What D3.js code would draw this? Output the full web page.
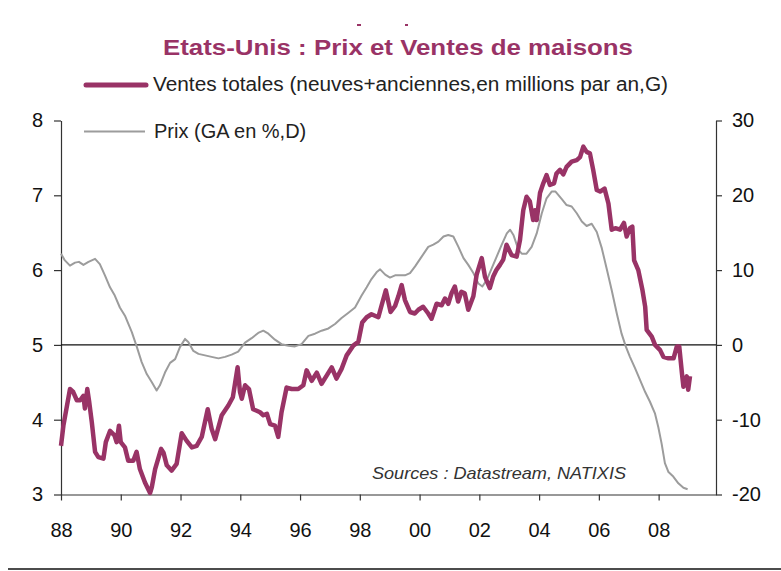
<!DOCTYPE html>
<html>
<head>
<meta charset="utf-8">
<script src="https://cdn.jsdelivr.net/npm/d3@7"></script>
<style>
  body { margin: 0; background: #fff; }
  svg { display: block; font-family: "Liberation Sans", Arial, sans-serif; }
</style>
</head>
<body>
<svg width="781" height="571"></svg>
<script>
// Ventes totales (millions par an), axe gauche
const salesYears = [
  1988.00, 1988.08, 1988.30, 1988.41, 1988.53, 1988.64, 1988.75, 1988.80, 1988.88, 1988.94,
  1989.03, 1989.14, 1989.25, 1989.42, 1989.50, 1989.64, 1989.79, 1989.86, 1989.94, 1990.00,
  1990.14, 1990.25, 1990.42, 1990.53, 1990.64, 1990.81, 1990.98, 1991.04, 1991.15, 1991.35,
  1991.43, 1991.54, 1991.70, 1991.87, 1992.04, 1992.20, 1992.38, 1992.54, 1992.71, 1992.91,
  1993.04, 1993.16, 1993.38, 1993.60, 1993.75, 1993.91, 1993.99, 1994.05, 1994.16, 1994.29,
  1994.43, 1994.55, 1994.66, 1994.77, 1994.89, 1995.00, 1995.16, 1995.27, 1995.38, 1995.55,
  1995.72, 1995.94, 1996.11, 1996.22, 1996.39, 1996.56, 1996.72, 1996.89, 1997.06, 1997.22,
  1997.39, 1997.56, 1997.78, 1997.95, 1998.08, 1998.23, 1998.39, 1998.62, 1998.73, 1998.87,
  1999.03, 1999.18, 1999.29, 1999.40, 1999.51, 1999.68, 1999.84, 1999.96, 2000.12, 2000.29,
  2000.40, 2000.57, 2000.74, 2000.85, 2000.96, 2001.07, 2001.18, 2001.29, 2001.40, 2001.51,
  2001.63, 2001.80, 2001.91, 2002.08, 2002.19, 2002.35, 2002.46, 2002.57, 2002.69, 2002.80,
  2002.91, 2003.08, 2003.25, 2003.36, 2003.47, 2003.58, 2003.69, 2003.80, 2003.86, 2003.92,
  2004.03, 2004.14, 2004.25, 2004.36, 2004.50, 2004.58, 2004.70, 2004.81, 2004.92, 2005.09,
  2005.26, 2005.37, 2005.48, 2005.59, 2005.70, 2005.81, 2005.93, 2006.04, 2006.19, 2006.32,
  2006.43, 2006.55, 2006.71, 2006.84, 2006.93, 2007.04, 2007.12, 2007.18, 2007.32, 2007.46,
  2007.55, 2007.60, 2007.77, 2007.88, 2008.05, 2008.16, 2008.33, 2008.50, 2008.61, 2008.69,
  2008.78, 2008.83, 2008.94, 2008.99, 2009.05
];
const salesValues = [
  3.65, 3.92, 4.41, 4.37, 4.26, 4.26, 4.32, 4.15, 4.41, 4.25,
  3.97, 3.57, 3.50, 3.48, 3.70, 3.85, 3.79, 3.70, 3.92, 3.70,
  3.63, 3.45, 3.45, 3.57, 3.34, 3.16, 3.02, 3.10, 3.34, 3.61,
  3.56, 3.39, 3.32, 3.41, 3.82, 3.72, 3.63, 3.65, 3.77, 4.14,
  3.88, 3.74, 4.06, 4.19, 4.30, 4.70, 4.37, 4.28, 4.46, 4.41,
  4.14, 4.12, 4.10, 4.06, 4.08, 3.94, 3.92, 3.77, 4.10, 4.43,
  4.41, 4.41, 4.46, 4.66, 4.52, 4.63, 4.48, 4.59, 4.70, 4.55,
  4.68, 4.86, 4.99, 5.04, 5.30, 5.37, 5.41, 5.37, 5.53, 5.73,
  5.44, 5.52, 5.65, 5.80, 5.60, 5.44, 5.42, 5.47, 5.51, 5.42,
  5.35, 5.55, 5.53, 5.62, 5.55, 5.69, 5.78, 5.58, 5.71, 5.69,
  5.47, 5.65, 5.94, 6.16, 5.91, 5.76, 5.91, 6.00, 6.07, 6.14,
  6.34, 6.20, 6.18, 6.40, 6.80, 6.98, 6.92, 6.67, 6.80, 6.67,
  7.03, 7.16, 7.27, 7.14, 7.16, 7.29, 7.34, 7.28, 7.38, 7.45,
  7.47, 7.51, 7.65, 7.58, 7.56, 7.34, 7.07, 7.05, 7.09, 6.89,
  6.54, 6.56, 6.54, 6.63, 6.45, 6.56, 6.58, 6.13, 6.00, 5.73,
  5.51, 5.20, 5.11, 5.00, 4.93, 4.84, 4.82, 4.82, 4.98, 4.98,
  4.62, 4.44, 4.58, 4.40, 4.58
];

// Prix (glissement annuel en %), axe droit
const priceYears = [
  1988.00, 1988.13, 1988.30, 1988.47, 1988.60, 1988.75, 1988.92, 1989.14, 1989.30, 1989.47,
  1989.64, 1989.80, 1989.97, 1990.14, 1990.37, 1990.54, 1990.70, 1990.87, 1991.04, 1991.20,
  1991.31, 1991.48, 1991.65, 1991.82, 1991.98, 1992.15, 1992.26, 1992.43, 1992.60, 1992.82,
  1993.04, 1993.27, 1993.49, 1993.71, 1993.93, 1994.16, 1994.38, 1994.60, 1994.77, 1994.94,
  1995.16, 1995.38, 1995.61, 1995.83, 1996.05, 1996.28, 1996.50, 1996.72, 1996.95, 1997.17,
  1997.39, 1997.62, 1997.84, 1998.06, 1998.23, 1998.39, 1998.56, 1998.68, 1998.85, 1999.01,
  1999.18, 1999.51, 1999.68, 1999.85, 2000.07, 2000.29, 2000.46, 2000.63, 2000.80, 2000.96,
  2001.13, 2001.30, 2001.47, 2001.63, 2001.80, 2001.97, 2002.10, 2002.25, 2002.41, 2002.58,
  2002.75, 2002.92, 2003.03, 2003.14, 2003.31, 2003.42, 2003.58, 2003.75, 2003.92, 2004.09,
  2004.25, 2004.42, 2004.55, 2004.76, 2004.92, 2005.09, 2005.26, 2005.43, 2005.59, 2005.76,
  2005.93, 2006.10, 2006.26, 2006.43, 2006.60, 2006.76, 2006.90, 2007.04, 2007.21, 2007.38,
  2007.55, 2007.71, 2007.88, 2007.99, 2008.10, 2008.21, 2008.33, 2008.49, 2008.66, 2008.83,
  2008.97
];
const priceValues = [
  12.2, 11.3, 10.6, 11.0, 11.1, 10.7, 11.1, 11.5, 10.8, 9.3,
  7.7, 6.6, 5.0, 3.9, 1.7, -0.3, -2.3, -3.9, -5.0, -6.1,
  -5.4, -3.7, -2.4, -1.9, -0.3, 0.8, 0.4, -0.8, -1.2, -1.4,
  -1.6, -1.8, -1.6, -1.3, -0.9, 0.3, 0.9, 1.6, 1.9, 1.5,
  0.7, 0.1, -0.1, -0.2, 0.1, 1.2, 1.5, 1.9, 2.2, 2.8,
  3.6, 4.3, 5.0, 6.6, 7.7, 8.8, 9.7, 10.1, 9.4, 9.0,
  9.3, 9.3, 9.6, 10.5, 11.8, 13.1, 13.4, 13.8, 14.5, 14.7,
  14.5, 13.1, 11.6, 10.7, 9.6, 8.2, 7.8, 8.7, 10.2, 11.8,
  13.4, 14.9, 15.4, 14.7, 12.7, 12.2, 12.2, 13.1, 14.9, 17.6,
  19.6, 20.5, 20.5, 19.5, 18.7, 18.5, 17.6, 16.5, 15.9, 16.2,
  15.1, 12.9, 10.2, 7.3, 4.2, 1.5, -0.2, -1.6, -3.1, -4.7,
  -6.3, -7.6, -9.2, -11.0, -13.2, -15.8, -17.0, -17.6, -18.5, -19.1,
  -19.3
];

const xTickYears = [1988, 1990, 1992, 1994, 1996, 1998, 2000, 2002, 2004, 2006, 2008];
const xTickLabels = ["88", "90", "92", "94", "96", "98", "00", "02", "04", "06", "08"];
const leftTicks = [3, 4, 5, 6, 7, 8];
const rightTicks = [-20, -10, 0, 10, 20, 30];

const plum = "#993366";
const grey = "#9c9c9c";
const axisColor = "#333";

const svg = d3.select("svg");

const x = d3.scaleLinear().domain([1988, 2009.92]).range([61, 716]);
const yLeft = d3.scaleLinear().domain([3, 8]).range([494.5, 120.5]);
const yRight = d3.scaleLinear().domain([-20, 30]).range([494.5, 120.5]);

// bouts de texte coupés en haut
svg.append("rect").attr("x", 357).attr("y", 24).attr("width", 4).attr("height", 2).attr("fill", plum);
svg.append("rect").attr("x", 405).attr("y", 24).attr("width", 3).attr("height", 2).attr("fill", plum);

svg.append("text")
  .attr("x", 163)
  .attr("y", 55)
  .attr("fill", plum)
  .attr("textLength", 470)
  .attr("lengthAdjust", "spacingAndGlyphs")
  .style("font-weight", "bold")
  .style("font-size", "22px")
  .text("Etats-Unis : Prix et Ventes de maisons");

// axes
const gLeft = svg.append("g").attr("transform", "translate(61,0)")
  .call(d3.axisLeft(yLeft).tickValues(leftTicks).tickFormat(d => String(d))
    .tickSize(7).tickSizeOuter(0).tickPadding(11));
const gRight = svg.append("g").attr("transform", "translate(716,0)")
  .call(d3.axisRight(yRight).tickValues(rightTicks).tickFormat(d => String(d))
    .tickSize(6).tickSizeOuter(0).tickPadding(10));
const gBottom = svg.append("g").attr("transform", "translate(0,494.5)")
  .call(d3.axisBottom(x).tickValues(xTickYears).tickFormat((d, i) => xTickLabels[i])
    .tickSize(6).tickSizeOuter(0).tickPadding(22));

[gLeft, gRight, gBottom].forEach(g => {
  g.selectAll("path, line").attr("stroke", axisColor).attr("stroke-width", 1.2);
  g.selectAll("text").attr("fill", "#111").style("font-size", "20px")
    .style("font-family", "'Liberation Sans', Arial, sans-serif");
});

// ligne du zéro
svg.append("line")
  .attr("x1", 61).attr("x2", 716)
  .attr("y1", yLeft(5)).attr("y2", yLeft(5))
  .attr("stroke", "#111").attr("stroke-width", 1.2);

const priceLine = d3.line()
  .x((d, i) => x(priceYears[i]))
  .y(d => yRight(d));
const salesLine = d3.line()
  .x((d, i) => x(salesYears[i]))
  .y(d => yLeft(d));

svg.append("path")
  .attr("d", priceLine(priceValues))
  .attr("fill", "none")
  .attr("stroke", grey)
  .attr("stroke-width", 2)
  .attr("stroke-linejoin", "round");

svg.append("path")
  .attr("d", salesLine(salesValues))
  .attr("fill", "none")
  .attr("stroke", plum)
  .attr("stroke-width", 4.5)
  .attr("stroke-linejoin", "round");

// légende
svg.append("line")
  .attr("x1", 86).attr("x2", 146).attr("y1", 85).attr("y2", 85)
  .attr("stroke", plum).attr("stroke-width", 5).attr("stroke-linecap", "round");
svg.append("text")
  .attr("x", 153).attr("y", 91)
  .attr("fill", "#222").style("font-size", "20px")
  .attr("textLength", 515).attr("lengthAdjust", "spacingAndGlyphs")
  .text("Ventes totales (neuves+anciennes,en millions par an,G)");

svg.append("line")
  .attr("x1", 84).attr("x2", 145).attr("y1", 131.5).attr("y2", 131.5)
  .attr("stroke", grey).attr("stroke-width", 2);
svg.append("text")
  .attr("x", 154).attr("y", 138)
  .attr("fill", "#222").style("font-size", "20px")
  .text("Prix (GA en %,D)");

svg.append("text")
  .attr("x", 372).attr("y", 479)
  .attr("fill", "#333")
  .attr("textLength", 254).attr("lengthAdjust", "spacingAndGlyphs")
  .style("font-size", "17px")
  .style("font-style", "italic")
  .text("Sources : Datastream, NATIXIS");

// trait en bas de page
svg.append("line")
  .attr("x1", 8).attr("x2", 781).attr("y1", 569).attr("y2", 569)
  .attr("stroke", "#111").attr("stroke-width", 1.5);
</script>
</body>
</html>
